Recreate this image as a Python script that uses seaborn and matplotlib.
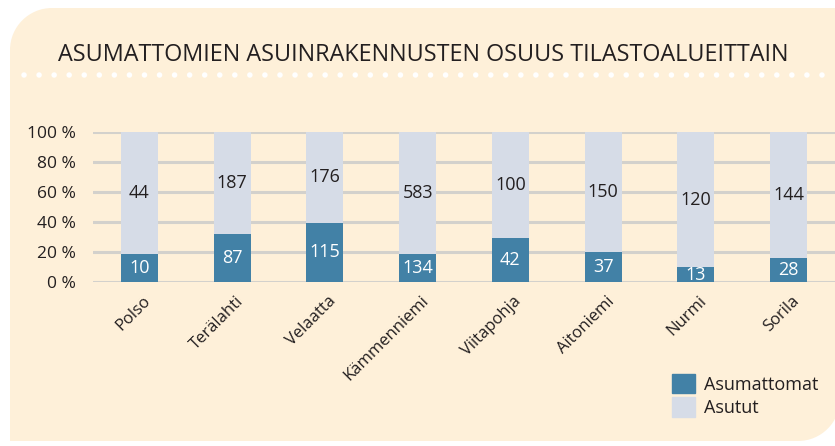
import matplotlib
matplotlib.use("Agg")
import matplotlib.pyplot as plt
import matplotlib.patches as mpatches
import matplotlib.transforms as mtransforms
from matplotlib.path import Path
import pandas as pd
import seaborn as sns

# data
areas = ['Polso', 'Terälahti', 'Velaatta', 'Kämmenniemi', 'Viitapohja',
         'Aitoniemi', 'Nurmi', 'Sorila']
vacant = [10, 87, 115, 134, 42, 37, 13, 28]      # Asumattomat
occupied = [44, 187, 176, 583, 100, 150, 120, 144]  # Asutut
yticks = [0, 20, 40, 60, 80, 100]

DARK = '#4281a6'
LIGHT = '#d6dce7'
BG = '#fef0d9'
GRID = '#d3d1cc'
TXT = '#231f20'

df = pd.DataFrame({'area': areas, 'vacant': vacant, 'occupied': occupied})
df['total'] = df.vacant + df.occupied
df['vac_pct'] = df.vacant / df.total * 100
df['all_pct'] = 100.0

sns.set_theme(style='white')
plt.rcParams['font.family'] = ['Open Sans', 'DejaVu Sans']

fig = plt.figure(figsize=(8.35, 4.46), dpi=100)
fig.patch.set_facecolor('white')

# background panel with two rounded corners (pixel coordinates)
bg = fig.add_axes([0, 0, 1, 1])
bg.set_xlim(0, 835)
bg.set_ylim(446, 0)
bg.axis('off')
L, T, R, B, r = 10, 8, 840, 441, 42
k = 0.5523
verts = [(L, B), (L, T + r), (L, T + r - r * k), (L + r - r * k, T), (L + r, T),
         (R, T), (R, B - r), (R, B - r + r * k), (R - r + r * k, B), (R - r, B), (L, B)]
codes = [Path.MOVETO, Path.LINETO, Path.CURVE4, Path.CURVE4, Path.CURVE4,
         Path.LINETO, Path.LINETO, Path.CURVE4, Path.CURVE4, Path.CURVE4, Path.CLOSEPOLY]
bg.add_patch(mpatches.PathPatch(Path(verts, codes), facecolor=BG, edgecolor='none'))
# title and dotted rule
bg.text(58, 55, 'ASUMATTOMIEN ASUINRAKENNUSTEN OSUUS TILASTOALUEITTAIN',
        fontsize=16.8, color=TXT, ha='left', va='center')
bg.plot([24, 822], [75, 75], color='white', lw=4.0, ls=(0, (0.01, 2.7)),
        dash_capstyle='round', solid_capstyle='round')

ax = fig.add_axes([93 / 835, 1 - 282 / 446, 1 - 93 / 835, 150 / 446])
ax.set_facecolor('none')
sns.barplot(data=df, x='area', y='all_pct', color=LIGHT, width=0.4,
            saturation=1, linewidth=0, ax=ax, zorder=2)
sns.barplot(data=df, x='area', y='vac_pct', color=DARK, width=0.4,
            saturation=1, linewidth=0, ax=ax, zorder=3)

ax.set_ylim(0, 100)
ax.set_xlim(-0.5, len(areas) - 0.5)
ax.set_yticks(yticks)
ax.set_yticklabels([f'{t} %' for t in yticks])
ax.yaxis.grid(True, color=GRID, lw=2.2, zorder=0)
ax.set_axisbelow(True)
for s in ax.spines.values():
    s.set_visible(False)
ax.set_xlabel('')
ax.set_ylabel('')
ax.tick_params(axis='y', length=0, pad=12, labelsize=12.5, labelcolor=TXT)
ax.tick_params(axis='x', length=0, pad=8, labelsize=12, labelcolor=TXT)
for lab in ax.get_xticklabels():
    lab.set_rotation(45)
    lab.set_ha('right')
    lab.set_va('top')
    lab.set_rotation_mode('anchor')
    lab.set_transform(lab.get_transform() + mtransforms.ScaledTranslation(0.03, 0, fig.dpi_scale_trans))

# value labels
for i, row in df.iterrows():
    ax.text(i, row.vac_pct / 2, str(row.vacant), ha='center', va='center',
            color='white', fontsize=13, zorder=5)
    ax.text(i, (row.vac_pct + 100) / 2, str(row.occupied), ha='center', va='center',
            color=TXT, fontsize=13, zorder=5)

handles = [mpatches.Patch(color=DARK, label='Asumattomat'),
           mpatches.Patch(color=LIGHT, label='Asutut')]
fig.legend(handles=handles, loc='upper left', bbox_to_anchor=(656 / 835, 1 - 358 / 446),
           frameon=False, fontsize=13, handlelength=1.25, handleheight=1.25,
           labelspacing=0.2, handletextpad=0.5, labelcolor=TXT)

fig.savefig('out.png', dpi=100, facecolor='white')
